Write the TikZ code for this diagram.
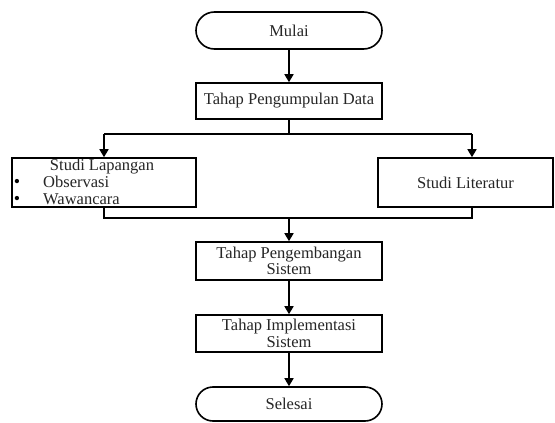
\documentclass[tikz,border=0pt]{standalone}
\usepackage{fontspec}
\setmainfont{Liberation Serif}
\usetikzlibrary{shapes.misc,arrows.meta}
\begin{document}
\begin{tikzpicture}[x=1pt,y=-1pt,
  every node/.style={font=\fontsize{16.5}{16.5}\selectfont, text=black!85},
  procbox/.style={draw=black, line width=1.6pt, rectangle, inner sep=0pt, align=center},
  termbox/.style={draw=black, line width=1.6pt, rounded rectangle, inner sep=0pt, minimum width=186pt},
  conn/.style={draw=black, line width=1.6pt},
  arr/.style={conn, -{Triangle[length=8pt,width=9pt]}},
  plain/.style={inner sep=0pt, anchor=base},
  bullet/.style={inner sep=0pt, anchor=base, font=\fontsize{18}{18}\selectfont, text=black}
]
\useasboundingbox (0,0) rectangle (555,423);
\fill[white] (0,0) rectangle (555,423);

\node[termbox, minimum height=37pt] (mulai) at (289,30.5) {Mulai};
\node[procbox, minimum width=186pt, minimum height=36pt] (data) at (289,101) {Tahap Pengumpulan Data};
\node[procbox, minimum width=184pt, minimum height=49pt] (lap) at (104,182.5) {};
\node[procbox, minimum width=175pt, minimum height=49pt] (lit) at (465.5,182.5) {Studi Literatur};
\node[procbox, minimum width=186pt, minimum height=38pt] (dev) at (289,261) {Tahap Pengembangan\\Sistem};
\node[procbox, minimum width=186pt, minimum height=37pt] (impl) at (289,333.5) {Tahap Implementasi\\Sistem};
\node[termbox, minimum height=34pt] (selesai) at (289,404) {Selesai};

% contents of Studi Lapangan
\node[plain] (lapt) at (102,170) {Studi Lapangan};
\node[bullet] (b1) at (17,187) {\textbullet};
\node[bullet] (b2) at (17,204) {\textbullet};
\node[plain, anchor=base west] (obs) at (43,187) {Observasi};
\node[plain, anchor=base west] (waw) at (43,204) {Wawancara};

% junction coordinates
\coordinate (split) at (289,134);
\coordinate (splitL) at (lap.north |- split);
\coordinate (splitR) at (472,134);
\coordinate (merge) at (289,218);
\coordinate (mergeL) at (lap.south |- merge);
\coordinate (mergeR) at (472,218);

\draw[arr] (mulai) -- (data);
\draw[conn] (data.south) -- (split);
\draw[conn] (splitL) -- (splitR);
\draw[arr] (splitL) -- (lap.north);
\draw[arr] (splitR) -- (splitR |- lit.north);
\draw[conn] (lap.south) -- (mergeL) -- (mergeR) -- (mergeR |- lit.south);
\draw[arr] (merge) -- (dev.north);
\draw[arr] (dev) -- (impl);
\draw[arr] (impl) -- (selesai);
\end{tikzpicture}
\end{document}
